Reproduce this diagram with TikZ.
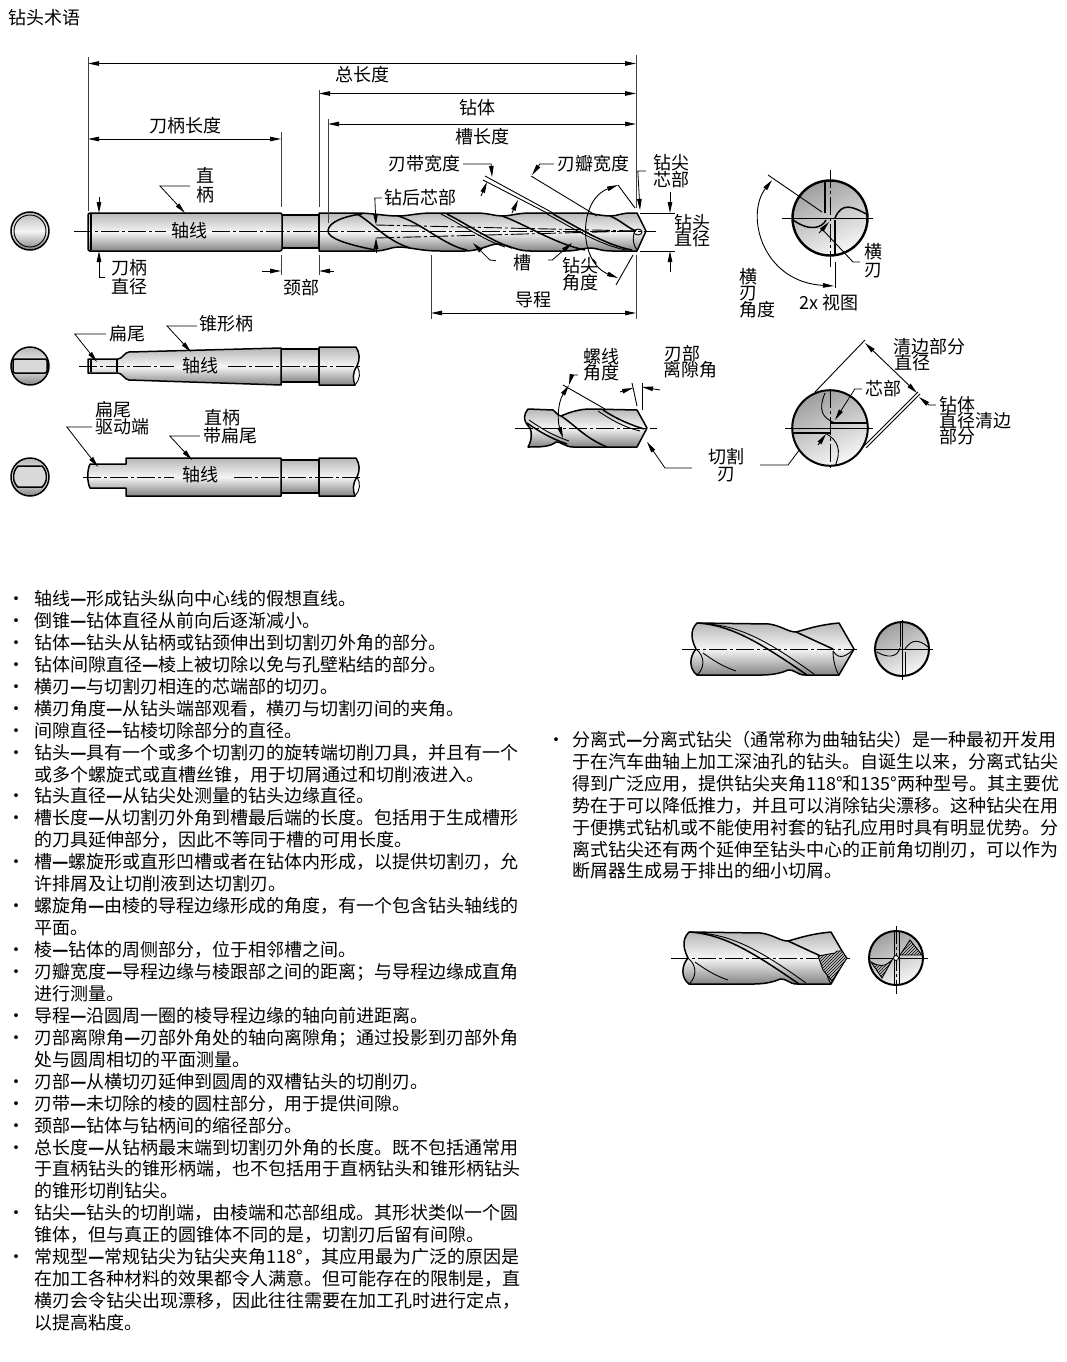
\documentclass[tikz,border=0pt]{standalone}
\usepackage{fontspec}
\setmainfont{Noto Sans CJK SC}
\usetikzlibrary{arrows.meta, patterns}
\newcommand{\gap}{\textbf{—}}

\begin{document}
\begin{tikzpicture}[x=1pt, y=-1pt, >={Stealth[length=11pt,width=4.5pt,inset=0pt]}]
	\tikzset {
		every node/.style={inner sep=0pt, text height=15pt, text depth=2pt, font=\fontsize{18pt}{18pt}\selectfont},
		steel/.style={top color=black!28, bottom color=black!48, middle color=black!4, draw=black, line width=1.5pt, line join=round},
		disc/.style={top color=black!38, bottom color=black!3, shading angle=25, draw=black, line width=2pt},
		flute/.style={line width=1.5pt},
		thinedge/.style={line width=0.9pt},
		extline/.style={line width=0.9pt, draw=black!75},
		dimline/.style={<->, line width=0.9pt},
		leader/.style={->, line width=0.8pt, shorten <=3pt},
		axisline/.style={line width=0.9pt, dash pattern=on 18pt off 3pt on 3pt off 3pt},
		hatchzone/.style={preaction={fill=black!25}, pattern=north east lines, draw=black, line width=0.9pt},
		bodyline/.style={anchor=west}
	}
	\useasboundingbox (0,0) rectangle (1067,1362);

	\node[anchor=west] (title) at (8,18) {钻头术语};

	\draw[steel] (30,231) circle (19pt);
	\draw[thinedge] (30,231) circle (16pt);
	\draw[steel] (282,215) rectangle (319,248);
	\draw[steel, rounded corners=2pt] (88,213) rectangle (282,251);
	\draw[flute] (91,214) -- (91,250);
	\draw[steel] (319,213) -- (357,213) .. controls (372,213) and (385,216) .. (398,216) .. controls (408,216) and (418,213) .. (432,213) -- (476,213) .. controls (488,213) and (495,216) .. (502,216) .. controls (510,216) and (518,213) .. (530,213) -- (585,213) .. controls (595,214) and (603,216) .. (610,216) .. controls (617,216) and (622,213) .. (630,213) -- (637,213) -- (646,231) -- (637,251) -- (612,251) .. controls (600,251) and (597,248) .. (590,248) .. controls (583,248) and (578,251) .. (565,251) -- (530,251) .. controls (515,251) and (508,244) .. (497,244) .. controls (490,244) and (480,251) .. (465,251) -- (440,251) .. controls (420,251) and (410,247) .. (398,247) .. controls (392,247) and (385,251) .. (375,251) -- (319,251) -- cycle;
	\draw[flute] (362,214) .. controls (345,216) and (328,222) .. (328,231) .. controls (328,238) and (345,244) .. (375,250);
	\draw[flute] (357,214) .. controls (372,222) and (385,240) .. (410,248);
	\draw[flute] (398,216) .. controls (420,222) and (445,246) .. (467,250);
	\draw[flute] (447,214) .. controls (470,226) and (490,240) .. (512,248);
	\draw[thinedge] (441,214) .. controls (464,226) and (484,240) .. (505,247);
	\draw[flute] (502,216) .. controls (525,224) and (555,244) .. (585,250);
	\draw[flute] (553,214) .. controls (575,226) and (605,245) .. (632,250);
	\draw[thinedge] (547,214) .. controls (569,226) and (599,245) .. (626,250);
	\draw[flute] (610,216) .. controls (620,220) and (628,228) .. (636,231);
	\draw[thinedge] (638,232) ellipse (4pt and 3pt);
	\draw[thinedge] (634,233) .. controls (632,240) and (634,246) .. (637,250);

	\coordinate (coreAl) at (376,225);
	\coordinate (coreBl) at (376,238);
	\coordinate (coreEnd) at (636,231);
	\draw[axisline] (coreAl) -- (coreEnd);
	\draw[axisline] (coreBl) -- (coreEnd);

	\node (axisA) at (189,231) {轴线};
	\coordinate (axisAl) at (74,231);
	\coordinate (axisAr) at (656,231);
	\draw[axisline] (axisAl) -- ([xshift=-5pt]axisA.west);
	\draw[axisline] ([xshift=5pt]axisA.east) -- (axisAr);

	\coordinate (totalL) at (88,63.5);
	\coordinate (totalR) at (636,63.5);
	\coordinate (bodyL) at (319,93.5);
	\coordinate (bodyR) at (636,93.5);
	\coordinate (fluteL) at (328,124);
	\coordinate (fluteR) at (636,124);
	\coordinate (shankL) at (88,139);
	\coordinate (shankR) at (281,139);
	\coordinate (leadL) at (431,313);
	\coordinate (leadR) at (636,313);
	\draw[dimline] (totalL) -- (totalR);
	\draw[dimline] (bodyL) -- (bodyR);
	\draw[dimline] (fluteL) -- (fluteR);
	\draw[dimline] (shankL) -- (shankR);
	\draw[dimline] (leadL) -- (leadR);
	\draw[extline] (totalL) ++(0,-6) -- ++(0,153);
	\draw[extline] (totalR) ++(0,-8) -- ++(0,152);
	\draw[extline] (bodyL) ++(0,-3) -- ++(0,116);
	\draw[extline] (fluteL) ++(0,-5) -- ++(0,104);
	\draw[extline] (shankR) ++(0,-7) -- ++(0,75);
	\draw[extline] (leadL) ++(0,-58) -- ++(0,64);
	\draw[extline] (leadR) ++(0,-58) -- ++(0,64);

	\node (total) at (362,75) {总长度};
	\node (body) at (477,108) {钻体};
	\node (flutelen) at (482,137) {槽长度};
	\node (shanklen) at (185,126) {刀柄长度};
	\node (lead) at (533,300) {导程};
	\node (neck) at (301,288) {颈部};
	\node (straightA) at (205,176) {直};
	\node (straightB) at (205,195) {柄};
	\node (shankdiaA) at (129,268) {刀柄};
	\node (shankdiaB) at (129,287) {直径};
	\node (backcore) at (420,198) {钻后芯部};
	\node (margin) at (424,164) {刃带宽度};
	\node (land) at (593,164) {刃瓣宽度};
	\node (tipcoreA) at (671,163) {钻尖};
	\node (tipcoreB) at (671,180) {芯部};
	\node (drilldiaA) at (692,223) {钻头};
	\node (drilldiaB) at (692,239) {直径};
	\node (groove) at (522,263) {槽};
	\node (tipangA) at (580,266) {钻尖};
	\node (tipangB) at (580,283) {角度};

	\coordinate (straightK) at (190,186);
	\coordinate (straightT) at (185,213);
	\draw[leader, shorten <=0pt] (straightK) -- ++(-30,0) -- (straightT);
	\coordinate (shankTopA) at (99,197);
	\coordinate (shankTopB) at (99,213);
	\draw[->, thinedge] (shankTopA) -- (shankTopB);
	\coordinate (shankK) at (105,277);
	\coordinate (shankBot) at (99,251);
	\draw[->, thinedge] (shankK) -- ++(-6,0) -- (shankBot);
	\coordinate (neckA) at (262,271);
	\coordinate (neckB) at (281,271);
	\coordinate (neckC) at (334,271);
	\coordinate (neckD) at (319,271);
	\draw[->, thinedge] (neckA) -- (neckB);
	\draw[->, thinedge] (neckC) -- (neckD);
	\draw[extline] (neckB) ++(0,-16) -- ++(0,20);
	\draw[extline] (neckD) ++(0,-16) -- ++(0,20);
	\coordinate (backT) at (376,225);
	\draw[leader, shorten <=2pt] (backcore.west) -- ++(-9,0) -- (backT);
	\coordinate (backB) at (376,253);
	\coordinate (backC) at (376,238);
	\draw[->, thinedge] (backB) -- (backC);
	\coordinate (marginT) at (492,177);
	\draw[leader] (margin.east) -- ++(31,0) -- (marginT);
	\coordinate (marginA) at (485,176);
	\coordinate (marginB) at (553,213);
	\coordinate (marginC) at (483,180);
	\coordinate (marginD) at (549,214);
	\draw[thinedge] (marginA) -- (marginB);
	\draw[thinedge] (marginC) -- (marginD);
	\coordinate (marginE) at (481,196);
	\coordinate (marginF) at (487,182);
	\draw[->, thinedge] (marginE) -- (marginF);
	\coordinate (landA) at (512,213);
	\coordinate (landB) at (518,200);
	\draw[->, thinedge] (landA) -- (landB);
	\coordinate (landT) at (532,175);
	\draw[leader] (land.west) -- ++(-17,0) -- (landT);
	\coordinate (landC) at (531,176);
	\coordinate (landD) at (597,216);
	\draw[thinedge] (landC) -- (landD);
	\coordinate (tipcoreT) at (640,210);
	\draw[leader] (tipcoreB.west) ++(-4,-9) -- ++(-11,0) -- (tipcoreT);
	\coordinate (ddiaA) at (670,192);
	\coordinate (ddiaB) at (670,213);
	\coordinate (ddiaC) at (670,272);
	\coordinate (ddiaD) at (670,251);
	\draw[->, thinedge] (ddiaA) -- (ddiaB);
	\draw[->, thinedge] (ddiaC) -- (ddiaD);
	\draw[thinedge] (ddiaB) ++(-30,0) -- ++(35,0);
	\draw[thinedge] (ddiaD) ++(-30,0) -- ++(35,0);
	\coordinate (grooveL) at (473,243);
	\coordinate (grooveR) at (572,243);
	\draw[leader] (groove.west) ++(-14,-2) -- ++(-9,-1) -- (grooveL);
	\draw[leader] (groove.east) ++(14,-3) -- ++(7,0) -- (grooveR);
	\coordinate (tipangT) at (618,185);
	\coordinate (tipangU) at (618,278);
	\draw[<->, thinedge] (tipangT) .. controls (578,200) and (578,262) .. (tipangU);
	\coordinate (tipextA) at (635,208);
	\coordinate (tipextB) at (633,255);
	\coordinate (tipextC) at (616,285);
	\draw[thinedge] (tipangT) -- (tipextA);
	\draw[thinedge] (tipextB) -- (tipextC);

	\coordinate (viewC) at (830,218);
	\draw[disc, line width=2.4pt] (viewC) circle (37.5pt);
	\coordinate (viewAxisL) at (782,218);
	\coordinate (viewAxisR) at (873,218);
	\coordinate (viewAxisT) at (830,170);
	\coordinate (viewAxisB) at (830,267);
	\draw[thinedge] (viewAxisL) -- (viewAxisR);
	\draw[axisline] (viewAxisT) -- (viewAxisB);
	\draw[flute] (825,182) -- (825,213);
	\draw[flute] (835,220) -- (835,255);
	\draw[flute] (835,218) .. controls (842,202) and (852,206) .. (868,215);
	\draw[flute] (793,220) .. controls (810,232) and (822,228) .. (826,220);
	\node (chiselA) at (873,252) {横};
	\node (chiselB) at (873,270) {刃};
	\node (chiselangA) at (748,277) {横};
	\node (chiselangB) at (748,293) {刃};
	\node (chiselangC) at (757,310) {角度};
	\node (viewlbl) at (829,303) {2x 视图};
	\coordinate (chiselExtA) at (768,175);
	\coordinate (chiselExtB) at (822,212);
	\coordinate (chiselExtC) at (835,288);
	\coordinate (chiselExtD) at (835,262);
	\draw[thinedge] (chiselExtA) -- (chiselExtB);
	\draw[thinedge] (chiselExtC) -- (chiselExtD);
	\coordinate (chiselArcA) at (772,180);
	\coordinate (chiselArcB) at (834,286);
	\draw[<->, thinedge] (chiselArcA) .. controls (745,215) and (762,282) .. (chiselArcB);
	\coordinate (chiselK) at (860,262);
	\coordinate (chiselM) at (853,262);
	\coordinate (chiselP) at (822,229);
	\coordinate (chiselT) at (829,222);
	\draw[thinedge] (chiselK) -- (chiselM) -- (chiselP);
	\draw[->, thinedge] (chiselP) ++(-3,4) -- (chiselT);

	\draw[steel] (30,366) circle (19pt);
	\draw[flute, fill=black!15, rounded corners=2pt] (13,359) rectangle (47,373);
	\draw[steel] (281,349) rectangle (319,382);
	\draw[steel] (88,359) -- (118,359) .. controls (122,359) and (125,352) .. (129,352) -- (281,348) -- (281,385) -- (129,380) .. controls (125,380) and (122,373) .. (118,373) -- (88,373) -- cycle;
	\draw[flute] (91,360) -- (91,372);
	\draw[flute] (117,360) -- (117,372);
	\draw[steel] (319,347) -- (356,347) .. controls (360,353) and (360,360) .. (357,366) .. controls (352,373) and (353,380) .. (355,385) -- (319,385) -- cycle;
	\draw[thinedge] (357,366) .. controls (361,372) and (360,380) .. (355,385);
	\node (axisB) at (200,366) {轴线};
	\coordinate (axisBl) at (79,366);
	\coordinate (axisBr) at (363,366);
	\draw[axisline] (axisBl) -- ([xshift=-8pt]axisB.west);
	\draw[axisline] ([xshift=10pt]axisB.east) -- (axisBr);
	\node (tang) at (127,334) {扁尾};
	\coordinate (tangT) at (97,362);
	\draw[leader] (tang.west) -- ++(-34,0) -- (tangT);
	\node (taper) at (226,324) {锥形柄};
	\coordinate (taperK) at (197,326);
	\coordinate (taperT) at (191,352);
	\draw[leader, shorten <=0pt] (taperK) -- ++(-30,0) -- (taperT);

	\draw[steel] (30,477) circle (19pt);
	\draw[flute, fill=black!15] (18,466) -- (42,466) .. controls (48,472) and (48,482) .. (42,487) -- (18,487) .. controls (12,482) and (12,472) .. (18,466) -- cycle;
	\draw[steel] (281,460) rectangle (319,493);
	\draw[steel] (90,464) -- (126,464) -- (126,458) -- (281,458) -- (281,496) -- (126,496) -- (126,488) -- (90,488) .. controls (87,482) and (87,470) .. (90,464) -- cycle;
	\draw[steel] (319,458) -- (356,458) .. controls (360,464) and (360,471) .. (357,477) .. controls (352,484) and (353,491) .. (355,496) -- (319,496) -- cycle;
	\draw[thinedge] (357,477) .. controls (361,483) and (360,491) .. (355,496);
	\node (axisC) at (200,475) {轴线};
	\coordinate (axisCl) at (83,477);
	\coordinate (axisCr) at (363,477);
	\draw[axisline] (axisCl) -- ([xshift=-8pt,yshift=-2pt]axisC.west);
	\draw[axisline] ([xshift=16pt,yshift=-2pt]axisC.east) -- (axisCr);
	\node (driveA) at (113,410) {扁尾};
	\node (driveB) at (122,427) {驱动端};
	\coordinate (driveT) at (98,467);
	\draw[leader] (driveB.west) -- ++(-28,0) -- (driveT);
	\node (flatA) at (222,418) {直柄};
	\node (flatB) at (230,436) {带扁尾};
	\coordinate (flatT) at (192,460);
	\draw[leader] (flatB.west) -- ++(-33,0) -- (flatT);

	\draw[steel] (528,409) -- (553,410) .. controls (556,412) and (558,416) .. (561,416) .. controls (570,412) and (580,409) .. (590,409) -- (637,410) -- (647,428) -- (637,447) -- (573,447) .. controls (565,447) and (560,441) .. (556,442) .. controls (550,447) and (540,447) .. (528,447) .. controls (532,440) and (532,432) .. (530,428) .. controls (522,420) and (524,414) .. (528,409) -- cycle;
	\draw[flute] (527,423) .. controls (540,432) and (550,438) .. (567,444);
	\draw[thinedge] (529,420) .. controls (542,429) and (552,435) .. (569,441);
	\draw[flute] (561,416) .. controls (575,425) and (585,438) .. (607,447);
	\draw[flute] (603,410) .. controls (615,418) and (628,424) .. (644,429);
	\draw[thinedge] (598,411) .. controls (610,419) and (623,427) .. (640,431);
	\coordinate (stubAxisL) at (515,428);
	\coordinate (stubAxisR) at (657,428);
	\draw[axisline] (stubAxisL) -- (stubAxisR);
	\node (helixA) at (601,357) {螺线};
	\node (helixB) at (601,373) {角度};
	\coordinate (helixT) at (569,385);
	\draw[leader] (helixB.west) ++(-2,2) -- ++(-9,0) -- (helixT);
	\coordinate (helixA1) at (563,385);
	\coordinate (helixA2) at (605,409);
	\draw[thinedge] (helixA1) -- (helixA2);
	\coordinate (helixU) at (563,438);
	\draw[<->, thinedge] (helixT) .. controls (558,402) and (557,420) .. (helixU);
	\node (clearA) at (682,354) {刃部};
	\node (clearB) at (690,370) {离隙角};
	\coordinate (clearV) at (642,383);
	\coordinate (clearW) at (642,410);
	\coordinate (clearX) at (632,383);
	\coordinate (clearY) at (637,406);
	\draw[thinedge] (clearV) -- (clearW);
	\draw[thinedge] (clearX) -- (clearY);
	\coordinate (clearL) at (620,392);
	\coordinate (clearLt) at (633,388);
	\coordinate (clearR) at (660,390);
	\coordinate (clearRt) at (642,387);
	\draw[->, thinedge] (clearL) -- (clearLt);
	\draw[->, thinedge] (clearR) -- (clearRt);
	\node (cutA) at (726,457) {切割};
	\node (cutB) at (726,474) {刃};
	\coordinate (cutKl) at (692,468);
	\coordinate (cutTl) at (647,442);
	\coordinate (cutKr) at (760,465);
	\coordinate (cutTr) at (810,436);
	\draw[leader, shorten <=0pt] (cutKl) -- ++(-27,0) -- (cutTl);
	\draw[leader, shorten <=0pt] (cutKr) -- ++(28,0) -- (cutTr);

	\coordinate (tipC) at (830,428);
	\draw[disc] (tipC) circle (37.8pt);
	\coordinate (tipAxisL) at (785,428);
	\coordinate (tipAxisR) at (873,428);
	\coordinate (tipAxisT) at (830,390);
	\coordinate (tipAxisB) at (830,470);
	\draw[thinedge] (tipAxisL) -- (tipAxisR);
	\draw[axisline] (tipAxisT) -- (tipAxisB);
	\draw[flute] (793,433) -- (830,433);
	\draw[flute] (830,423) -- (867,423);
	\draw[thinedge] (825,393) .. controls (818,410) and (822,418) .. (835,423);
	\draw[thinedge] (835,466) .. controls (842,450) and (838,440) .. (825,433);
	\coordinate (tanA) at (815,392);
	\coordinate (tanB) at (865,340);
	\coordinate (tanC) at (863,447);
	\coordinate (tanD) at (918,392);
	\coordinate (tanE) at (866,448);
	\coordinate (tanF) at (920,394);
	\draw[thinedge] (tanA) -- (tanB);
	\draw[thinedge] (tanC) -- (tanD);
	\draw[thinedge] (tanE) -- (tanF);
	\coordinate (clrdiaA) at (865,343);
	\coordinate (clrdiaB) at (917,393);
	\draw[dimline] (clrdiaA) -- (clrdiaB);
	\node (clrA) at (929,347) {清边部分};
	\node (clrB) at (912,363) {直径};
	\node (clrC) at (957,405) {钻体};
	\node (clrD) at (975,421) {直径清边};
	\node (clrE) at (957,437) {部分};
	\coordinate (clrT) at (919,397);
	\draw[leader] (clrC.west) -- ++(-10,0) -- (clrT);
	\node (corelbl) at (883,389) {芯部};
	\coordinate (coreT) at (835,420);
	\draw[leader] (corelbl.west) -- ++(-10,0) -- (coreT);
	\coordinate (coreL) at (818,445);
	\coordinate (coreLt) at (826,434);
	\draw[->, thinedge] (coreL) -- (coreLt);

	\foreach \sx/\sy in {692/649, 684/958} {
		\begin{scope}[shift={(\sx,\sy)}]
			\draw[steel] (5,-26) -- (77,-25) .. controls (90,-23) and (96,-17) .. (104,-17) .. controls (112,-19) and (125,-24) .. (147,-26) -- (162,0) -- (147,26) -- (113,26) .. controls (105,26) and (102,20) .. (96,21) .. controls (90,24) and (80,26) .. (70,26) -- (5,26) .. controls (-3,20) and (-3,8) .. (4,0) .. controls (0,-8) and (-3,-18) .. (5,-26) -- cycle;
			\draw[thinedge] (4,0) .. controls (14,8) and (12,20) .. (5,26);
			\draw[flute] (5,-26) .. controls (40,-24) and (70,-5) .. (115,26);
			\draw[thinedge] (15,-25) .. controls (50,-23) and (80,-5) .. (122,25);
			\draw[flute] (104,-17) .. controls (115,-12) and (130,-5) .. (141,0);
			\draw[thinedge] (11,4) .. controls (22,12) and (32,18) .. (44,22);
			\draw[thinedge] (141,2) .. controls (141,10) and (143,20) .. (147,26);
		\end{scope}
	}
	\coordinate (stubAxL) at (682,649);
	\coordinate (stubAxR) at (857,649);
	\draw[axisline] (stubAxL) -- (stubAxR);
	\draw[thinedge] (833,651) .. controls (840,662) and (848,654) .. (854,649);

	\coordinate (splitC) at (902,649);
	\draw[disc] (splitC) circle (27pt);
	\coordinate (splitL) at (874,649);
	\coordinate (splitR) at (933,649);
	\coordinate (splitT) at (902,620);
	\coordinate (splitB) at (902,680);
	\draw[thinedge] (splitL) -- (splitR);
	\draw[thinedge] (splitT) -- (splitB);
	\draw[thinedge] (900,623) -- (900,647);
	\draw[thinedge] (905,652) -- (905,675);
	\draw[thinedge] (905,649) .. controls (912,638) and (920,640) .. (928,647);
	\draw[thinedge] (877,652) .. controls (887,658) and (897,658) .. (900,648);

	\coordinate (hatchAxL) at (671,958);
	\coordinate (hatchAxR) at (850,958);
	\draw[axisline] (hatchAxL) -- (hatchAxR);
	\draw[hatchzone] (818,956) -- (835,953) -- (837,951) -- (842,951) -- (847,958) -- (832,981) -- (823,970) -- cycle;

	\coordinate (hatchC) at (896,958);
	\draw[disc] (hatchC) circle (27pt);
	\draw[hatchzone] (900,955) -- (910,940) -- (922,955) -- cycle;
	\draw[hatchzone] (871,962) -- (882,978) -- (892,960) .. controls (884,968) and (878,966) .. (871,962) -- cycle;
	\coordinate (hatchL) at (868,958);
	\coordinate (hatchR) at (928,958);
	\coordinate (hatchT) at (896,926);
	\coordinate (hatchB) at (896,994);
	\draw[thinedge] (hatchL) -- (hatchR);
	\draw[axisline] (hatchT) -- (hatchB);
	\draw[thinedge] (894,932) -- (894,985);
	\draw[thinedge] (899,932) -- (899,985);
	\draw[thinedge, fill=white] (896,958) circle (2.5pt);

	\foreach \txt [count=\i] in {
		轴线\gap 形成钻头纵向中心线的假想直线。,
		倒锥\gap 钻体直径从前向后逐渐减小。,
		钻体\gap 钻头从钻柄或钻颈伸出到切割刃外角的部分。,
		钻体间隙直径\gap 棱上被切除以免与孔壁粘结的部分。,
		横刃\gap 与切割刃相连的芯端部的切刃。,
		横刃角度\gap 从钻头端部观看，横刃与切割刃间的夹角。,
		间隙直径\gap 钻棱切除部分的直径。,
		钻头\gap 具有一个或多个切割刃的旋转端切削刀具，并且有一个,
		或多个螺旋式或直槽丝锥，用于切屑通过和切削液进入。,
		钻头直径\gap 从钻尖处测量的钻头边缘直径。,
		槽长度\gap 从切割刃外角到槽最后端的长度。包括用于生成槽形,
		的刀具延伸部分，因此不等同于槽的可用长度。,
		槽\gap 螺旋形或直形凹槽或者在钻体内形成，以提供切割刃，允,
		许排屑及让切削液到达切割刃。,
		螺旋角\gap 由棱的导程边缘形成的角度，有一个包含钻头轴线的,
		平面。,
		棱\gap 钻体的周侧部分，位于相邻槽之间。,
		刃瓣宽度\gap 导程边缘与棱跟部之间的距离；与导程边缘成直角,
		进行测量。,
		导程\gap 沿圆周一圈的棱导程边缘的轴向前进距离。,
		刃部离隙角\gap 刃部外角处的轴向离隙角；通过投影到刃部外角,
		处与圆周相切的平面测量。,
		刃部\gap 从横切刃延伸到圆周的双槽钻头的切削刃。,
		刃带\gap 未切除的棱的圆柱部分，用于提供间隙。,
		颈部\gap 钻体与钻柄间的缩径部分。,
		总长度\gap 从钻柄最末端到切割刃外角的长度。既不包括通常用,
		于直柄钻头的锥形柄端，也不包括用于直柄钻头和锥形柄钻头,
		的锥形切削钻尖。,
		钻尖\gap 钻头的切削端，由棱端和芯部组成。其形状类似一个圆,
		锥体，但与真正的圆锥体不同的是，切割刃后留有间隙。,
		常规型\gap 常规钻尖为钻尖夹角118°，其应用最为广泛的原因是,
		在加工各种材料的效果都令人满意。但可能存在的限制是，直,
		横刃会令钻尖出现漂移，因此往往需要在加工孔时进行定点，,
		以提高粘度。} {
		\node[bodyline] (left\i) at (34,{599+21.94*(\i-1)}) {\txt};
	}
	\foreach \i in {1,2,3,4,5,6,7,8,10,11,13,15,17,18,20,21,23,24,25,26,29,31} {
		\node (dot\i) at (17,{599+21.94*(\i-1)}) {·};
	}

	\foreach \txt [count=\i] in {
		分离式\gap 分离式钻尖（通常称为曲轴钻尖）是一种最初开发用,
		于在汽车曲轴上加工深油孔的钻头。自诞生以来，分离式钻尖,
		得到广泛应用，提供钻尖夹角118°和135°两种型号。其主要优,
		势在于可以降低推力，并且可以消除钻尖漂移。这种钻尖在用,
		于便携式钻机或不能使用衬套的钻孔应用时具有明显优势。分,
		离式钻尖还有两个延伸至钻头中心的正前角切削刃，可以作为,
		断屑器生成易于排出的细小切屑。} {
		\node[bodyline] (right\i) at (572,{740+21.9*(\i-1)}) {\txt};
	}
	\node (dotR) at (556,740) {·};
\end{tikzpicture}
\end{document}
